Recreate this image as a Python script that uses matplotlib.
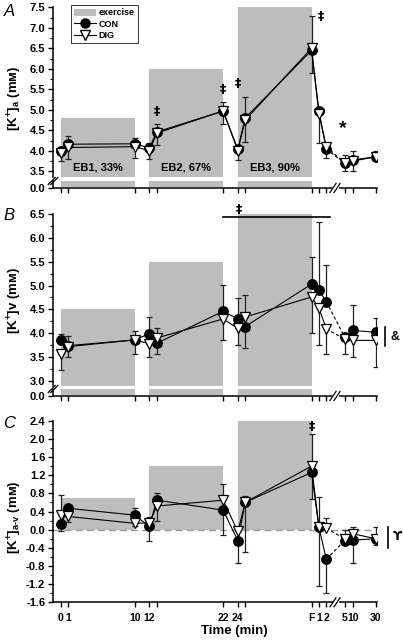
import numpy as np
import matplotlib
matplotlib.use("Agg")
import matplotlib.pyplot as plt
from matplotlib.lines import Line2D
from matplotlib.patches import Patch

plt.rcParams['font.family'] = ['Liberation Sans', 'DejaVu Sans']
plt.rcParams['font.weight'] = 'bold'
plt.rcParams['mathtext.fontset'] = 'custom'
plt.rcParams['mathtext.rm'] = 'Liberation Sans:bold'
plt.rcParams['mathtext.it'] = 'Liberation Sans:bold'
plt.rcParams['mathtext.bf'] = 'Liberation Sans:bold'
plt.rcParams['mathtext.default'] = 'rm'

# time points (axis positions: exercise blocks 0-10, 12-22, 24-34(F), recovery after break)
t_pos = [0, 1, 10, 12, 13, 22, 24, 25, 34, 35, 36, 38.5, 39.6, 42.7]
t_lab = ['0', '1', '10', '12', '', '22', '24', '', 'F', '1', '2', '5', '10', '30']
brk = 10  # segment index 10 -> 11 crosses the axis break

# exercise bouts: start, end, label
eb_start = [0, 12, 24]
eb_end = [10, 22, 34]
eb_lab = ['EB1, 33%', 'EB2, 67%', 'EB3, 90%']
eb_top_a = [4.8, 6.0, 7.5]
eb_top_v = [4.5, 5.5, 6.5]
eb_top_av = [0.7, 1.4, 2.4]

# arterial [K+]
con_a = [4.00, 4.16, 4.17, 4.07, 4.46, 4.97, 4.04, 4.80, 6.45, 4.97, 4.04, 3.70, 3.78, 3.85]
dig_a = [3.95, 4.08, 4.10, 4.00, 4.43, 4.97, 4.00, 4.75, 6.50, 4.89, 4.10, 3.70, 3.75, 3.85]
con_a_hi = [0.08, 0.20, 0.15, 0.13, 0.20, 0.23, 0.11, 0.52, 0.83, 0.00, 0.00, 0.19, 0.22, 0.15]
dig_a_lo = [0.20, 0.28, 0.27, 0.20, 0.29, 0.32, 0.23, 0.54, 0.60, 0.69, 0.27, 0.20, 0.25, 0.09]

# venous [K+]
con_v = [3.85, 3.74, 3.86, 3.99, 3.79, 4.46, 4.30, 4.14, 5.03, 4.91, 4.66, 3.92, 4.06, 4.02]
dig_v = [3.57, 3.72, 3.86, 3.78, 3.90, 4.30, 4.10, 4.34, 4.76, 4.53, 4.09, 3.88, 3.85, 3.85]
con_v_hi = [0.14, 0.21, 0.18, 0.36, 0.00, 0.56, 0.43, 0.00, 0.56, 1.42, 0.77, 0.05, 0.54, 0.30]
con_v_lo = [0.00, 0.00, 0.00, 0.00, 0.22, 0.00, 0.00, 0.44, 0.00, 0.00, 0.00, 0.00, 0.00, 0.00]
dig_v_lo = [0.35, 0.22, 0.29, 0.28, 0.00, 0.44, 0.35, 0.00, 0.76, 0.78, 0.52, 0.32, 0.35, 0.56]
dig_v_hi = [0.00, 0.00, 0.00, 0.00, 0.20, 0.00, 0.00, 0.46, 0.00, 0.00, 0.00, 0.00, 0.00, 0.00]

# a-v difference
con_av = [0.13, 0.47, 0.32, 0.07, 0.65, 0.43, -0.24, 0.60, 1.26, 0.05, -0.65, -0.24, -0.23, -0.20]
dig_av = [0.32, 0.29, 0.14, 0.15, 0.52, 0.65, -0.04, 0.60, 1.40, 0.06, 0.03, -0.20, -0.09, -0.20]
con_av_hi = [0.00, 0.05, 0.16, 0.00, 0.16, 0.00, 0.00, 0.00, 0.00, 0.00, 0.00, 0.00, 0.00, 0.00]
con_av_lo = [0.15, 0.00, 0.00, 0.33, 0.00, 0.55, 0.50, 1.10, 0.58, 1.29, 0.75, 0.05, 0.51, 0.14]
dig_av_hi = [0.45, 0.00, 0.00, 0.13, 0.00, 0.35, 0.00, 0.14, 0.70, 0.66, 0.22, 0.20, 0.14, 0.26]
dig_av_lo = [0.00, 0.13, 0.05, 0.00, 0.32, 0.00, 0.00, 0.00, 0.00, 0.00, 0.00, 0.00, 0.00, 0.00]

GRAY = '#bdbdbd'
W, H = 403, 640
fig = plt.figure(figsize=(W / 100, H / 100), dpi=100)


def box(l, t, r, b):
    return [l / W, 1 - b / H, (r - l) / W, (b - t) / H]


XL = (-1.08, 42.88)


def style(ax, bottom=True):
    ax.set_xlim(*XL)
    for s in ['top', 'right']:
        ax.spines[s].set_visible(False)
    ax.spines['left'].set_linewidth(1.1)
    ax.spines['bottom'].set_linewidth(1.1)
    ax.spines['bottom'].set_visible(bottom)
    ax.tick_params(axis='both', direction='out', width=1.0, length=3.5, labelsize=8, pad=2)
    ax.tick_params(axis='y', which='minor', direction='out', width=0.8, length=2)
    ax.patch.set_alpha(0)


def draw_series(ax, con, dig, errs):
    x = np.array(t_pos)
    for y in (con, dig):
        ax.plot(x[:brk + 1], y[:brk + 1], color='k', lw=0.8, zorder=3)
        ax.plot(x[brk:brk + 2], y[brk:brk + 2], color='k', lw=0.8, ls=(0, (3, 2)), zorder=3)
        ax.plot(x[brk + 1:], y[brk + 1:], color='k', lw=0.8, zorder=3)
    for y, lo, hi in errs:
        ax.errorbar(x, y, yerr=[lo, hi], fmt='none', ecolor='#222222', elinewidth=0.9,
                    capsize=2.2, capthick=0.9, zorder=2)
    ax.plot(x, con, 'o', ms=6.8, mfc='k', mec='k', zorder=4)
    ax.plot(x, dig, 'v', ms=7.5, mfc='white', mec='k', mew=0.9, zorder=5)


def draw_boxes(ax, tops, bottom):
    for s, e, top in zip(eb_start, eb_end, tops):
        ax.bar(s, top - bottom, width=e - s, bottom=bottom, align='edge', color=GRAY, lw=0, zorder=0)


def stub(ax_rect, top_val):
    ax = fig.add_axes(ax_rect)
    style(ax)
    ax.set_ylim(0, 0.17)
    ax.set_yticks([0.0])
    ax.set_yticklabels(['0.0'])
    ax.set_xticks(t_pos)
    ax.set_xticklabels([])
    for s, e in zip(eb_start, eb_end):
        ax.bar(s, 0.14, width=e - s, bottom=0.03, align='edge', color=GRAY, lw=0, zorder=0)
    return ax


def ybreak(xp, yp):
    for dx in (-1.3, 1.3):
        fig.add_artist(Line2D([(xp + dx - 3.5) / W, (xp + dx + 3.5) / W],
                              [1 - (yp + 3.5) / H, 1 - (yp - 3.5) / H], color='k', lw=0.9))


def xbreak(xp, yp):
    fig.add_artist(plt.Rectangle(((xp - 2.5) / W, 1 - (yp + 1.5) / H), 5 / W, 3 / H,
                                 color='white', zorder=10))
    for dx in (-2, 2):
        fig.add_artist(Line2D([(xp + dx - 3) / W, (xp + dx + 3) / W],
                              [1 - (yp + 4.5) / H, 1 - (yp - 4.5) / H], color='k', lw=0.9, zorder=11))


# ---------------- panel A ----------------
axA = fig.add_axes(box(53, 7.3, 377, 177))
style(axA, bottom=False)
axA.set_ylim(3.36, 7.5)
axA.set_yticks(np.arange(3.5, 7.51, 0.5))
axA.set_yticks(np.arange(3.5, 7.51, 0.25), minor=True)
axA.set_yticklabels(['%.1f' % v for v in np.arange(3.5, 7.51, 0.5)])
axA.set_xticks([])
draw_boxes(axA, eb_top_a, 3.36)
draw_series(axA, con_a, dig_a, [(con_a, [0] * 14, con_a_hi), (dig_a, dig_a_lo, [0] * 14)])
for s, e, lab in zip(eb_start, eb_end, eb_lab):
    axA.text((s + e) / 2, 3.58, lab, ha='center', va='center', fontsize=8)
for xx, yy in [(13, 4.97), (22, 5.5), (24, 5.65), (35.2, 7.27)]:
    axA.text(xx, yy, '‡', ha='center', va='center', fontsize=9, family=['DejaVu Sans'])
axA.text(38.3, 4.55, '*', ha='center', va='center', fontsize=14)
handles = [Patch(color=GRAY, lw=0),
           Line2D([], [], color='k', lw=0.8, marker='o', ms=6.5, mfc='k'),
           Line2D([], [], color='k', lw=0.8, marker='v', ms=7, mfc='white', mec='k')]
leg = axA.legend(handles, ['exercise', 'CON', 'DIG'], loc='upper left',
                 bbox_to_anchor=(0.055, 1.015), fontsize=6.5, frameon=True, fancybox=False,
                 edgecolor='k', handlelength=2.4, handleheight=0.8, labelspacing=0.25,
                 borderpad=0.4, handletextpad=0.3, borderaxespad=0)
leg.get_frame().set_linewidth(0.7)
stub(box(53, 181, 377, 188), 0.17)
ybreak(53, 181)
xbreak(335, 188)
fig.text(9 / W, 1 - 12 / H, 'A', fontsize=12, style='italic', fontweight='normal', ha='center', va='center')
fig.text(15 / W, 1 - 98 / H, '$[K^{+}]_{a}$ (mᴍ)', rotation=90, fontsize=9.5, ha='center', va='center')

# ---------------- panel B ----------------
axB = fig.add_axes(box(53, 214, 377, 386))
style(axB, bottom=False)
axB.set_ylim(2.894, 6.5)
axB.set_yticks(np.arange(3.0, 6.51, 0.5))
axB.set_yticks(np.arange(3.0, 6.51, 0.25), minor=True)
axB.set_yticklabels(['%.1f' % v for v in np.arange(3.0, 6.51, 0.5)])
axB.set_xticks([])
draw_boxes(axB, eb_top_v, 2.894)
draw_series(axB, con_v, dig_v, [(con_v, con_v_lo, con_v_hi), (dig_v, dig_v_lo, dig_v_hi)])
axB.plot([22, 36.5], [6.44, 6.44], color='k', lw=1.2, clip_on=False, zorder=6)
axB.text(24.1, 6.6, '‡', ha='center', va='center', fontsize=9, family=['DejaVu Sans'], clip_on=False)
stub(box(53, 389, 377, 396), 0.17)
ybreak(53, 389)
xbreak(335, 396)
fig.add_artist(Line2D([385 / W, 385 / W], [1 - 327 / H, 1 - 346 / H], color='k', lw=1.2))
fig.text(395 / W, 1 - 337 / H, '&', fontsize=9, ha='center', va='center')
fig.text(9 / W, 1 - 215 / H, 'B', fontsize=12, style='italic', fontweight='normal', ha='center', va='center')
fig.text(15 / W, 1 - 300 / H, '$[K^{+}]$v (mᴍ)', rotation=90, fontsize=9.5, ha='center', va='center')

# ---------------- panel C ----------------
axC = fig.add_axes(box(53, 420.7, 377, 602.3))
style(axC)
axC.set_ylim(-1.6, 2.4)
axC.set_yticks(np.arange(-1.6, 2.41, 0.4))
axC.set_yticks(np.arange(-1.6, 2.41, 0.2), minor=True)
axC.set_yticklabels(['%.1f' % v if abs(v) > 1e-9 else '0.0' for v in np.arange(-1.6, 2.41, 0.4)])
axC.set_xticks(t_pos)
axC.set_xticklabels(t_lab)
axC.tick_params(axis='x', pad=4, labelsize=7.5)
draw_boxes(axC, eb_top_av, 0.0)
axC.axhline(0, color='#9a9a9a', lw=1.0, ls=(0, (5, 3)), zorder=1)
draw_series(axC, con_av, dig_av, [(con_av, con_av_lo, con_av_hi), (dig_av, dig_av_lo, dig_av_hi)])
axC.text(34, 2.28, '‡', ha='center', va='center', fontsize=9, family=['DejaVu Sans'])
xbreak(335, 602.3)
fig.add_artist(Line2D([388 / W, 388 / W], [1 - 527 / H, 1 - 548 / H], color='k', lw=1.2))
fig.text(397 / W, 1 - 537 / H, 'ϒ', fontsize=9, ha='center', va='center', family=['DejaVu Sans'])
fig.text(9 / W, 1 - 423 / H, 'C', fontsize=12, style='italic', fontweight='normal', ha='center', va='center')
fig.text(15 / W, 1 - 517 / H, '$[K^{+}]_{a\u2010v}$ (mᴍ)', rotation=90, fontsize=9.5, ha='center', va='center')
fig.text(234 / W, 1 - 631 / H, 'Time (min)', fontsize=9.5, ha='center', va='center')

fig.savefig('out.png', dpi=100)
